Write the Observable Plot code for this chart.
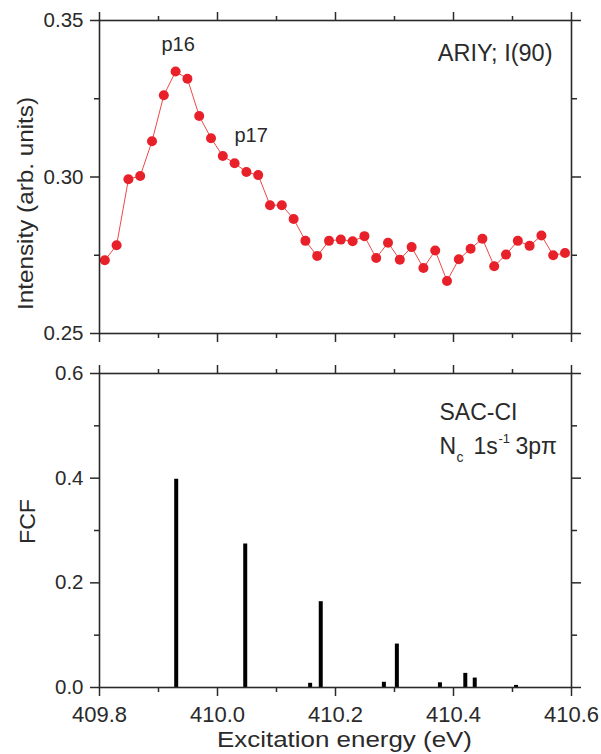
<!DOCTYPE html>
<html>
<head>
<meta charset="utf-8">
<script src="https://cdn.jsdelivr.net/npm/d3@7"></script>
<script src="https://cdn.jsdelivr.net/npm/@observablehq/plot@0.6"></script>
<style>
  html, body { margin: 0; padding: 0; background: #fff; }
  #chart { width: 601px; height: 754px; }
  #chart svg { display: block; }
</style>
</head>
<body>
<div id="chart"></div>
<script>
// ---- Data ----
const energyTop = [409.809, 409.829, 409.849, 409.869, 409.889, 409.909, 409.929, 409.949, 409.969, 409.989,
                   410.009, 410.029, 410.049, 410.069, 410.089, 410.109, 410.129, 410.149, 410.169, 410.189,
                   410.209, 410.229, 410.249, 410.269, 410.289, 410.309, 410.329, 410.349, 410.369, 410.389,
                   410.409, 410.429, 410.449, 410.469, 410.489, 410.509, 410.529, 410.549, 410.569, 410.589];
const intensity = [0.2734, 0.2782, 0.2993, 0.3003, 0.3114, 0.3261, 0.3337, 0.3314, 0.3195, 0.3124,
                   0.3067, 0.3044, 0.3016, 0.3006, 0.2910, 0.2910, 0.2866, 0.2796, 0.2748, 0.2796,
                   0.2800, 0.2795, 0.2811, 0.2741, 0.2790, 0.2736, 0.2776, 0.2709, 0.2765, 0.2668,
                   0.2737, 0.2771, 0.2803, 0.2715, 0.2752, 0.2796, 0.2780, 0.2813, 0.2750, 0.2757];
const fcfEnergy = [409.930, 410.047, 410.157, 410.175, 410.282, 410.304, 410.377, 410.420, 410.436, 410.506];
const fcfValue  = [0.398, 0.274, 0.008, 0.164, 0.010, 0.083, 0.009, 0.027, 0.018, 0.004];

const xMajorTicks = [409.8, 410.0, 410.2, 410.4, 410.6];
const xMinorTicks = [409.9, 410.1, 410.3, 410.5];
const yTopMajor = [0.25, 0.30, 0.35];
const yTopMinor = [0.275, 0.325];
const yBotMajor = [0.0, 0.2, 0.4, 0.6];
const yBotMinor = [0.1, 0.3, 0.5];

const topLabels = ["p16", "p17"];
const topTag = "ARIY; I(90)";
const botTag = "SAC-CI";
const yTitleTop = "Intensity (arb. units)";
const yTitleBot = "FCF";
const xTitle = "Excitation energy (eV)";

const topData = energyTop.map((e, i) => ({e, v: intensity[i]}));
const botData = fcfEnergy.map((e, i) => ({e, v: fcfValue[i]}));

const FONT = "'Liberation Sans', Arial, Helvetica, sans-serif";
const INK = "#2a2a2a";
const W = 601, ML = 99, MR = 30;
const blank = () => "";

function frameAxes(yMajor, yMinor, yFmt, withXLabels) {
  const common = {strokeWidth: 1.5, stroke: INK};
  return [
    Plot.frame({stroke: INK, strokeWidth: 1.6}),
    Plot.axisX({anchor: "bottom", ticks: xMajorTicks, tickSize: 9, tickPadding: 10,
                tickFormat: withXLabels ? d3.format(".1f") : blank, label: null, fontSize: 22, ...common}),
    Plot.axisX({anchor: "bottom", ticks: xMinorTicks, tickSize: 5, tickFormat: blank, label: null, ...common}),
    Plot.axisX({anchor: "top", ticks: xMajorTicks, tickSize: 9, tickFormat: blank, label: null, ...common}),
    Plot.axisX({anchor: "top", ticks: xMinorTicks, tickSize: 5, tickFormat: blank, label: null, ...common}),
    Plot.axisY({anchor: "left", ticks: yMajor, tickSize: 9, tickPadding: 7, tickFormat: d3.format(yFmt),
                label: null, fontSize: 20.5, ...common}),
    Plot.axisY({anchor: "left", ticks: yMinor, tickSize: 5, tickFormat: blank, label: null, ...common}),
    Plot.axisY({anchor: "right", ticks: yMajor, tickSize: 9, tickFormat: blank, label: null, ...common}),
    Plot.axisY({anchor: "right", ticks: yMinor, tickSize: 5, tickFormat: blank, label: null, ...common})
  ];
}

const topPanel = Plot.plot({
  width: W, height: 353,
  marginLeft: ML, marginRight: MR, marginTop: 20, marginBottom: 20,
  style: {fontFamily: FONT, fontSize: "20px", color: INK, background: "#fff", overflow: "visible"},
  x: {domain: [409.8, 410.6]},
  y: {domain: [0.25, 0.35]},
  marks: [
    Plot.line(topData, {x: "e", y: "v", stroke: "#f04848", strokeWidth: 1}),
    Plot.dot(topData, {x: "e", y: "v", r: 5, fill: "#e8202a", stroke: "none"}),
    ...frameAxes(yTopMajor, yTopMinor, ".2f", false),
    Plot.text([yTitleTop], {text: d => d, frameAnchor: "left", textAnchor: "middle", rotate: -90,
      dx: -74, dy: 26.5, fontSize: 22, fill: INK}),
    Plot.text([topLabels[0]], {text: d => d, frameAnchor: "top-left", textAnchor: "start", lineAnchor: "top",
      dx: 62, dy: 16.5, fontSize: 20, fill: INK}),
    Plot.text([topLabels[1]], {text: d => d, frameAnchor: "top-left", textAnchor: "start", lineAnchor: "top",
      dx: 135, dy: 107.5, fontSize: 20, fill: INK}),
    Plot.text([topTag], {text: d => d, frameAnchor: "top-right", textAnchor: "end", lineAnchor: "top",
      dx: -19, dy: 23.5, fontSize: 23.5, fill: INK})
  ]
});

const bottomPanel = Plot.plot({
  width: W, height: 401,
  marginLeft: ML, marginRight: MR, marginTop: 20, marginBottom: 67,
  style: {fontFamily: FONT, fontSize: "20px", color: INK, background: "#fff", overflow: "visible"},
  x: {domain: [409.8, 410.6]},
  y: {domain: [0, 0.6]},
  marks: [
    Plot.ruleX(botData, {x: "e", y1: 0, y2: "v", stroke: "#000", strokeWidth: 4}),
    ...frameAxes(yBotMajor, yBotMinor, ".1f", true),
    Plot.text([xTitle], {text: d => d, frameAnchor: "bottom", textAnchor: "middle", lineAnchor: "top",
      dx: 9, dy: 44, fontSize: 22, fill: INK}),
    Plot.text([yTitleBot], {text: d => d, frameAnchor: "left", textAnchor: "middle", rotate: -90,
      dx: -72, dy: -9, fontSize: 22, fill: INK}),
    Plot.text([botTag], {text: d => d, frameAnchor: "top-left", textAnchor: "start", lineAnchor: "top",
      dx: 340, dy: 30.5, fontSize: 23, fill: INK}),
    Plot.text(["N"], {text: d => d, frameAnchor: "top-left", textAnchor: "start", lineAnchor: "top",
      dx: 340, dy: 64, fontSize: 23, fill: INK}),
    Plot.text(["c"], {text: d => d, frameAnchor: "top-left", textAnchor: "start", lineAnchor: "top",
      dx: 357, dy: 79, fontSize: 14, fill: INK}),
    Plot.text(["1s"], {text: d => d, frameAnchor: "top-left", textAnchor: "start", lineAnchor: "top",
      dx: 374, dy: 64, fontSize: 23, fill: INK}),
    Plot.text(["-1"], {text: d => d, frameAnchor: "top-left", textAnchor: "start", lineAnchor: "top",
      dx: 399, dy: 60, fontSize: 13, fill: INK}),
    Plot.text(["3p\u03c0"], {text: d => d, frameAnchor: "top-left", textAnchor: "start", lineAnchor: "top",
      dx: 416, dy: 64, fontSize: 23, fill: INK})
  ]
});

// Match the reference's slightly wider lettering of the axis titles.
const titleLengths = new Map([[yTitleTop, 213], [xTitle, 255], [yTitleBot, 45]]);
for (const svg of [topPanel, bottomPanel]) {
  d3.select(svg).selectAll("text").each(function () {
    const len = titleLengths.get(this.textContent);
    if (len) {
      this.setAttribute("textLength", len);
      this.setAttribute("lengthAdjust", "spacingAndGlyphs");
    }
  });
}

const root = document.getElementById("chart");
root.appendChild(topPanel);
root.appendChild(bottomPanel);
</script>
</body>
</html>
